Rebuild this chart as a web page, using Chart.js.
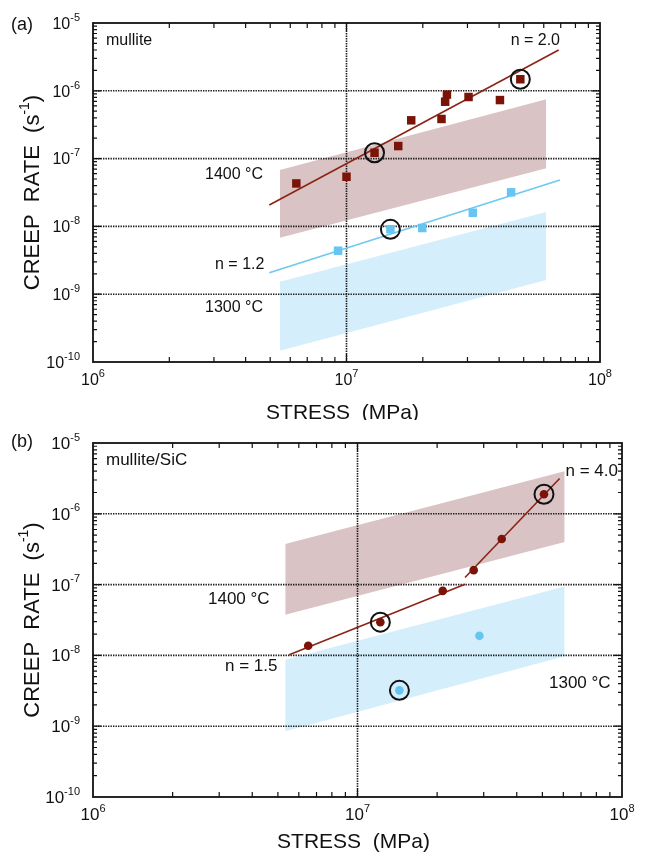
<!DOCTYPE html>
<html>
<head>
<meta charset="utf-8">
<script src="https://cdn.jsdelivr.net/npm/chart.js@4.4.1/dist/chart.umd.min.js"></script>
<style>
  html, body { margin: 0; padding: 0; background: #ffffff; overflow: hidden; }
  .panel { position: absolute; left: 0; width: 648px; }
  canvas { display: block; }
</style>
</head>
<body>
<div class="panel" style="top:0px;height:420px;"><canvas id="chartA" width="648" height="420" style="width:648px;height:420px;"></canvas></div>
<div class="panel" style="top:420px;height:434px;"><canvas id="chartB" width="648" height="434" style="width:648px;height:434px;"></canvas></div>
<script>
// ---------------- Panel (a): mullite ----------------
const aBrownStress = [6.34e6, 1.00e7, 1.29e7, 1.60e7, 1.80e7, 2.37e7, 2.45e7, 2.49e7, 3.03e7, 4.03e7, 4.85e7];
const aBrownRate   = [4.3e-8, 5.4e-8, 1.22e-7, 1.53e-7, 3.67e-7, 3.84e-7, 6.9e-7, 8.8e-7, 8.1e-7, 7.3e-7, 1.48e-6];
const aBlueStress  = [9.26e6, 1.49e7, 1.99e7, 3.15e7, 4.46e7];
const aBlueRate    = [4.38e-9, 9.06e-9, 9.46e-9, 1.59e-8, 3.18e-8];
const aCircledStress = [1.29e7, 4.85e7, 1.49e7];
const aCircledRate   = [1.22e-7, 1.48e-6, 9.06e-9];
const aBrownFitStress = [4.96e6, 6.87e7];
const aBrownFitRate   = [2.07e-8, 4.0e-6];
const aBlueFitStress  = [4.96e6, 6.95e7];
const aBlueFitRate    = [2.07e-9, 4.83e-8];
const aBandStress      = [5.46e6, 6.14e7];
const aBrownBandTop    = [6.8e-8, 7.5e-7];
const aBrownBandBottom = [6.8e-9, 7.2e-8];
const aBlueBandTop     = [1.53e-9, 1.63e-8];
const aBlueBandBottom  = [1.47e-10, 1.62e-9];

// ---------------- Panel (b): mullite/SiC ----------------
const bBrownStress = [6.51e6, 1.22e7, 2.10e7, 2.75e7, 3.51e7, 5.07e7];
const bBrownRate   = [1.37e-8, 2.95e-8, 8.15e-8, 1.60e-7, 4.4e-7, 1.89e-6];
const bBlueStress  = [1.44e7, 2.89e7];
const bBlueRate    = [3.21e-9, 1.89e-8];
const bCircledStress = [1.22e7, 5.07e7, 1.44e7];
const bCircledRate   = [2.95e-8, 1.89e-6, 3.21e-9];
const bLowFitStress  = [5.52e6, 2.55e7];
const bLowFitRate    = [1.02e-8, 1.01e-7];
const bHighFitStress = [2.55e7, 5.81e7];
const bHighFitRate   = [1.26e-7, 3.15e-6];
const bBandStress      = [5.33e6, 6.07e7];
const bBrownBandTop    = [3.74e-7, 4.0e-6];
const bBrownBandBottom = [3.74e-8, 4.0e-7];
const bBlueBandTop     = [8.7e-9, 9.4e-8];
const bBlueBandBottom  = [8.5e-10, 9.7e-9];

// ---------------- Axes / ticks ----------------
const xTickExponents = [6, 7, 8];
const yTickExponents = [-10, -9, -8, -7, -6, -5];
const xGridValues = [1e7];
const yGridValues = [1e-9, 1e-8, 1e-7, 1e-6];
const xTitle = 'STRESS  (MPa)';
const yTitleMain = 'CREEP  RATE  (s';
const yTitleSup = '-1';
const yTitleEnd = ')';

const FONT = '"Liberation Sans", Arial, Helvetica, sans-serif';
const BROWN = '#7a1408';
const BROWN_LINE = '#8b2414';
const BROWN_BAND = '#d9c3c4';
const BLUE = '#67c5f2';
const BLUE_LINE = '#6ec8f0';
const BLUE_BAND = '#d4effb';

function pts(xs, ys) { return xs.map((x, i) => ({x: x, y: ys[i]})); }

function drawParts(ctx, parts, x, y, align) {
  let total = 0;
  parts.forEach(p => { ctx.font = p.size + 'px ' + FONT; p.w = ctx.measureText(p.t).width; total += p.w; });
  let sx = x;
  if (align === 'center') sx = x - total / 2;
  else if (align === 'right') sx = x - total;
  const mainSize = parts[0].size;
  const baseline = y + 0.358 * mainSize;
  ctx.textBaseline = 'alphabetic';
  ctx.textAlign = 'left';
  parts.forEach(p => {
    ctx.font = p.size + 'px ' + FONT;
    ctx.fillText(p.t, sx, baseline - (p.rise || 0));
    sx += p.w;
  });
}

const decorPlugin = {
  id: 'decor',
  afterDatasetDraw(chart, args, o) {
    if (args.index !== o.gridAfterIndex) return;
    const ctx = chart.ctx, xs = chart.scales.x, ys = chart.scales.y, a = chart.chartArea;
    ctx.save();
    ctx.strokeStyle = '#1c1c1c';
    ctx.lineWidth = 1.6;
    ctx.setLineDash([1.4, 1.1]);
    yGridValues.forEach(v => {
      const py = ys.getPixelForValue(v);
      ctx.beginPath(); ctx.moveTo(a.left, py); ctx.lineTo(a.right, py); ctx.stroke();
    });
    xGridValues.forEach(v => {
      const px = xs.getPixelForValue(v);
      ctx.beginPath(); ctx.moveTo(px, a.top); ctx.lineTo(px, a.bottom); ctx.stroke();
    });
    ctx.restore();
  },
  afterDraw(chart, args, o) {
    const ctx = chart.ctx, xs = chart.scales.x, ys = chart.scales.y, a = chart.chartArea;
    ctx.save();
    ctx.fillStyle = '#111';
    ctx.strokeStyle = '#111';
    ctx.lineWidth = 1.8;
    ctx.strokeRect(a.left, a.top, a.right - a.left, a.bottom - a.top);
    ctx.lineWidth = 1.2;
    for (let e = xTickExponents[0]; e < xTickExponents[xTickExponents.length - 1]; e++) {
      for (let k = 1; k <= 9; k++) {
        const v = k * Math.pow(10, e);
        if (k === 1 && e === xTickExponents[0]) continue;
        const px = xs.getPixelForValue(v);
        const len = k === 1 ? 8 : 5;
        ctx.beginPath();
        ctx.moveTo(px, a.bottom); ctx.lineTo(px, a.bottom - len);
        ctx.moveTo(px, a.top); ctx.lineTo(px, a.top + len);
        ctx.stroke();
      }
    }
    for (let e = yTickExponents[0]; e < yTickExponents[yTickExponents.length - 1]; e++) {
      for (let k = 1; k <= 9; k++) {
        const v = k * Math.pow(10, e);
        if (k === 1 && e === yTickExponents[0]) continue;
        const py = ys.getPixelForValue(v);
        const len = k === 1 ? 8 : 4;
        ctx.beginPath();
        ctx.moveTo(a.left, py); ctx.lineTo(a.left + len, py);
        ctx.moveTo(a.right, py); ctx.lineTo(a.right - len, py);
        ctx.stroke();
      }
    }
    const ts = o.tickSize, ss = o.supSize;
    xTickExponents.forEach(e => {
      const px = xs.getPixelForValue(Math.pow(10, e));
      drawParts(ctx, [{t: '10', size: ts}, {t: String(e), size: ss, rise: 0.5 * ts}], px, a.bottom + o.xLabelOffset, 'center');
    });
    yTickExponents.forEach(e => {
      const py = ys.getPixelForValue(Math.pow(10, e));
      drawParts(ctx, [{t: '10', size: ts}, {t: String(e), size: ss, rise: 0.5 * ts}], o.yLabelRight, py, 'right');
    });
    drawParts(ctx, [{t: xTitle, size: o.titleSize}], (a.left + a.right) / 2 + o.xTitleShift, a.bottom + o.xTitleOffset, 'center');
    ctx.save();
    ctx.translate(o.yTitleX, (a.top + a.bottom) / 2);
    ctx.rotate(-Math.PI / 2);
    const yt = o.yTitleSize;
    drawParts(ctx, [{t: yTitleMain, size: yt}, {t: yTitleSup, size: Math.round(yt * 0.62), rise: 0.48 * yt}, {t: yTitleEnd, size: yt}], 0, 0, 'center');
    ctx.restore();
    o.notes.forEach(n => {
      drawParts(ctx, [{t: n.text, size: n.size}], n.x, n.y, n.align);
    });
    ctx.restore();
  }
};

function circleSet(xs, ys, r) {
  return { type: 'scatter', data: pts(xs, ys), pointStyle: 'circle', pointRadius: r, pointHoverRadius: r,
           backgroundColor: 'rgba(0,0,0,0)', borderColor: '#111', borderWidth: 2, pointBorderWidth: 2 };
}
function lineSet(xs, ys, color, width) {
  return { type: 'line', data: pts(xs, ys), borderColor: color, borderWidth: width, pointRadius: 0, tension: 0, fill: false };
}
function bandTop(xs, ys, color) {
  return { type: 'line', data: pts(xs, ys), borderWidth: 0, borderColor: 'rgba(0,0,0,0)', backgroundColor: color, pointRadius: 0, tension: 0, fill: '+1' };
}
function bandBottom(xs, ys) {
  return { type: 'line', data: pts(xs, ys), borderWidth: 0, borderColor: 'rgba(0,0,0,0)', pointRadius: 0, tension: 0, fill: false };
}

function makeChart(id, datasets, padding, decor) {
  return new Chart(document.getElementById(id), {
    type: 'scatter',
    data: { datasets: datasets },
    options: {
      responsive: false,
      animation: false,
      devicePixelRatio: 1,
      layout: { padding: padding },
      events: [],
      plugins: { legend: { display: false }, tooltip: { enabled: false }, decor: decor },
      scales: {
        x: { type: 'logarithmic', min: 1e6, max: 1e8, display: false },
        y: { type: 'logarithmic', min: 1e-10, max: 1e-5, display: false }
      }
    },
    plugins: [decorPlugin]
  });
}

makeChart('chartA', [
  circleSet(aCircledStress, aCircledRate, 9.5),
  { type: 'scatter', data: pts(aBrownStress, aBrownRate), pointStyle: 'rect', pointRadius: 6, backgroundColor: BROWN, borderWidth: 0 },
  { type: 'scatter', data: pts(aBlueStress, aBlueRate), pointStyle: 'rect', pointRadius: 6, backgroundColor: BLUE, borderWidth: 0 },
  lineSet(aBrownFitStress, aBrownFitRate, BROWN_LINE, 1.6),
  lineSet(aBlueFitStress, aBlueFitRate, BLUE_LINE, 1.6),
  bandTop(aBandStress, aBrownBandTop, BROWN_BAND),
  bandBottom(aBandStress, aBrownBandBottom),
  bandTop(aBandStress, aBlueBandTop, BLUE_BAND),
  bandBottom(aBandStress, aBlueBandBottom)
], { left: 93, right: 48, top: 23, bottom: 58 }, {
  gridAfterIndex: 5,
  tickSize: 16, supSize: 11,
  xLabelOffset: 17, yLabelRight: 80,
  titleSize: 21, yTitleSize: 22, xTitleOffset: 49, xTitleShift: -4, yTitleX: 31.5,
  notes: [
    { text: '(a)', x: 11, y: 24, size: 18, align: 'left' },
    { text: 'mullite', x: 106, y: 39, size: 16, align: 'left' },
    { text: 'n = 2.0', x: 560, y: 39, size: 16, align: 'right' },
    { text: '1400 °C', x: 205, y: 173, size: 16, align: 'left' },
    { text: 'n = 1.2', x: 215, y: 263, size: 16, align: 'left' },
    { text: '1300 °C', x: 205, y: 306, size: 16, align: 'left' }
  ]
});

makeChart('chartB', [
  circleSet(bCircledStress, bCircledRate, 9.5),
  { type: 'scatter', data: pts(bBrownStress, bBrownRate), pointStyle: 'circle', pointRadius: 4.3, backgroundColor: BROWN, borderWidth: 0 },
  { type: 'scatter', data: pts(bBlueStress, bBlueRate), pointStyle: 'circle', pointRadius: 4.3, backgroundColor: BLUE, borderWidth: 0 },
  lineSet(bLowFitStress, bLowFitRate, BROWN_LINE, 1.6),
  lineSet(bHighFitStress, bHighFitRate, BROWN_LINE, 1.6),
  bandTop(bBandStress, bBrownBandTop, BROWN_BAND),
  bandBottom(bBandStress, bBrownBandBottom),
  bandTop(bBandStress, bBlueBandTop, BLUE_BAND),
  bandBottom(bBandStress, bBlueBandBottom)
], { left: 93, right: 26, top: 23, bottom: 57 }, {
  gridAfterIndex: 5,
  tickSize: 17, supSize: 11,
  xLabelOffset: 17, yLabelRight: 80,
  titleSize: 21, yTitleSize: 22, xTitleOffset: 43, xTitleShift: -4, yTitleX: 31,
  notes: [
    { text: '(b)', x: 11, y: 21, size: 18, align: 'left' },
    { text: 'mullite/SiC', x: 106, y: 39, size: 17, align: 'left' },
    { text: 'n = 4.0', x: 618, y: 50, size: 17, align: 'right' },
    { text: '1400 °C', x: 208, y: 178, size: 17, align: 'left' },
    { text: 'n = 1.5', x: 225, y: 245, size: 17, align: 'left' },
    { text: '1300 °C', x: 549, y: 262, size: 17, align: 'left' }
  ]
});
</script>
</body>
</html>
